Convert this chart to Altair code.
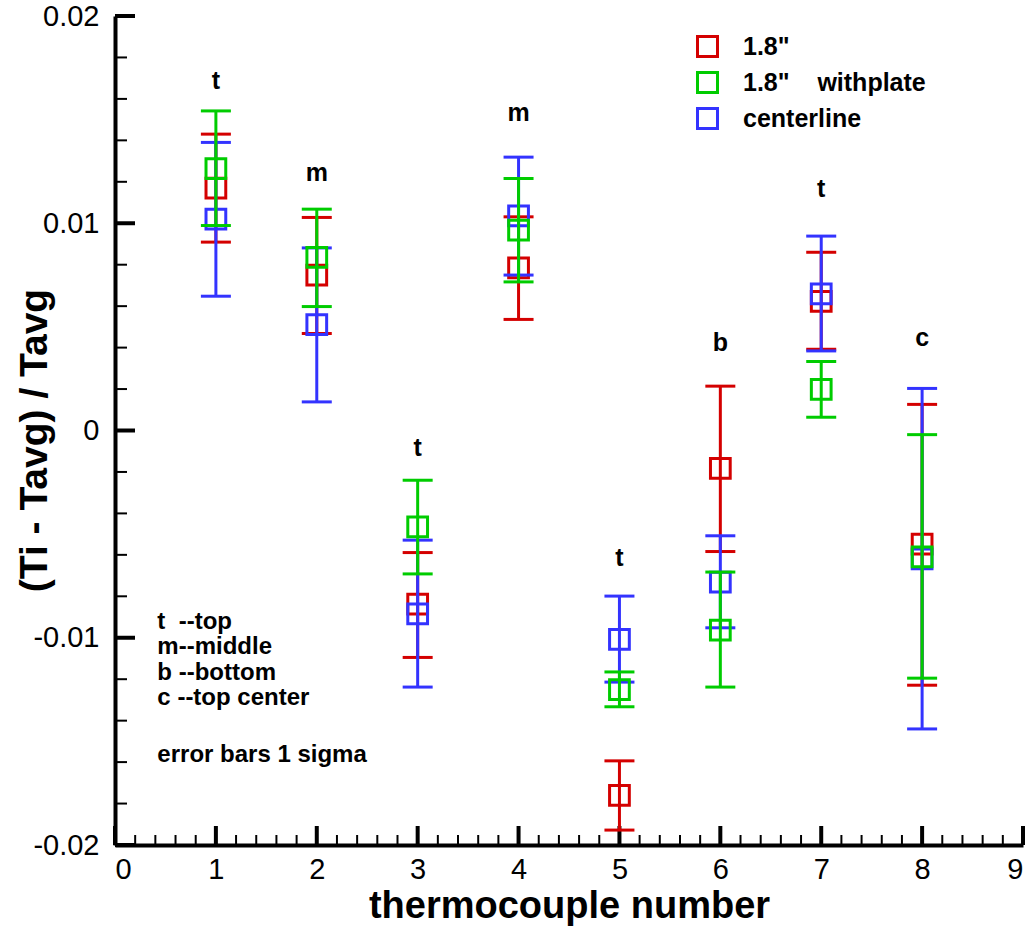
import altair as alt
import pandas as pd

FONT = "Liberation Sans"
NB = "\u00a0"

thermocouple = [1, 2, 3, 4, 5, 6, 7, 8]
series_names = ['1.8"', '1.8"' + NB * 4 + 'withplate', 'centerline']
series_colors = ["#D40000", "#00CC00", "#3333FF"]

red_mean = [0.01169, 0.00750, -0.00838, 0.00785, -0.01761, -0.00183, 0.00623, -0.00548]
red_hi = [0.01430, 0.01028, -0.00589, 0.01031, -0.01594, 0.00214, 0.00860, 0.00126]
red_lo = [0.00909, 0.00468, -0.01095, 0.00536, -0.01928, -0.00584, 0.00392, -0.01229]

green_mean = [0.01264, 0.00835, -0.00465, 0.00967, -0.01250, -0.00963, 0.00198, -0.00610]
green_hi = [0.01542, 0.01068, -0.00240, 0.01216, -0.01165, -0.00683, 0.00333, -0.00020]
green_lo = [0.00989, 0.00598, -0.00692, 0.00717, -0.01333, -0.01238, 0.00064, -0.01195]

blue_mean = [0.01020, 0.00511, -0.00885, 0.01036, -0.01008, -0.00732, 0.00659, -0.00620]
blue_hi = [0.01390, 0.00881, -0.00529, 0.01319, -0.00799, -0.00508, 0.00938, 0.00203]
blue_lo = [0.00648, 0.00138, -0.01238, 0.00750, -0.01214, -0.00952, 0.00384, -0.01440]

point_letters = ["t", "m", "t", "m", "t", "b", "t", "c"]
point_letter_y = [0.01684, 0.01242, -0.00085, 0.01531, -0.00616, 0.00421, 0.01165, 0.00446]

note_lines = ["t" + NB * 2 + "--top", "m--middle", "b" + NB + "--bottom",
              "c" + NB + "--top center", "error bars 1 sigma"]
note_y = [-0.00925, -0.01046, -0.01171, -0.01292, -0.01567]
note_x = 0.42

x_major = [0, 1, 2, 3, 4, 5, 6, 7, 8, 9]
x_minor = [i / 5 for i in range(46) if i % 5 != 0]
y_major = [-0.02, -0.01, 0.0, 0.01, 0.02]
y_minor = [i / 500 for i in range(-10, 11) if i % 5 != 0]

xs = alt.Scale(domain=[0, 9], nice=False, zero=False)
ys = alt.Scale(domain=[-0.02, 0.02], nice=False, zero=False)
cs = alt.Scale(domain=series_names, range=series_colors)

legend = alt.Legend(
    title=None, orient="none", legendX=580, legendY=18,
    symbolType="square", symbolSize=400, symbolStrokeWidth=3,
    symbolFillColor="transparent",
    labelFont=FONT, labelFontSize=25, labelFontWeight="bold", labelColor="black",
    labelOffset=23, rowPadding=3, labelLimit=0,
)

x_axis = alt.Axis(
    values=x_major, format="d", grid=False, ticks=False,
    domain=True, domainColor="black", domainWidth=4,
    labelFont=FONT, labelFontSize=29, labelColor="black", labelPadding=10,
    title="thermocouple number", titleFont=FONT, titleFontSize=38,
    titleFontWeight="bold", titleColor="black",
    titleY=72, titleBaseline="alphabetic",
)
y_axis = alt.Axis(
    values=y_major, grid=False, ticks=False,
    labelExpr="datum.value == 0 ? '0' : (datum.value < 0 ? '-' : '') + format(abs(datum.value), '.2f')",
    domain=True, domainColor="black", domainWidth=4,
    labelFont=FONT, labelFontSize=29, labelColor="black", labelPadding=16,
    title="(Ti - Tavg) / Tavg", titleFont=FONT, titleFontSize=39,
    titleFontWeight="bold", titleColor="black",
    titleAngle=270, titleX=-69, titleY=424, titleAlign="center",
    titleBaseline="alphabetic",
)


def X(field):
    return alt.X(field, scale=xs, axis=x_axis)


def Y(field):
    return alt.Y(field, scale=ys, axis=y_axis)


# ----- axis ticks (drawn inward) -----
xmaj_df = pd.DataFrame({"v": x_major, "b": -0.02})
xmin_df = pd.DataFrame({"v": x_minor, "b": -0.02})
ymaj_df = pd.DataFrame({"v": y_major, "b": 0.0})
ymin_df = pd.DataFrame({"v": y_minor, "b": 0.0})

xmaj = alt.Chart(xmaj_df).mark_rule(color="black", strokeWidth=4, y2Offset=-19).encode(
    x=X("v:Q"), y=Y("b:Q"), y2="b:Q",
)
xmin = alt.Chart(xmin_df).mark_rule(color="black", strokeWidth=2, y2Offset=-10).encode(
    x=X("v:Q"), y=Y("b:Q"), y2="b:Q",
)
ymaj = alt.Chart(ymaj_df).mark_rule(color="black", strokeWidth=4, x2Offset=20).encode(
    y=Y("v:Q"), x=X("b:Q"), x2="b:Q",
)
ymin = alt.Chart(ymin_df).mark_rule(color="black", strokeWidth=2, x2Offset=12).encode(
    y=Y("v:Q"), x=X("b:Q"), x2="b:Q",
)

layers = [xmin, xmaj, ymin, ymaj]

series_data = [
    (series_names[0], series_colors[0], red_mean, red_lo, red_hi),
    (series_names[2], series_colors[2], blue_mean, blue_lo, blue_hi),
    (series_names[1], series_colors[1], green_mean, green_lo, green_hi),
]

for name, color, mean, lo, hi in series_data:
    df = pd.DataFrame({"x": thermocouple, "mean": mean, "lo": lo, "hi": hi, "series": name})
    base = alt.Chart(df)
    bar = base.mark_rule(color=color, strokeWidth=3).encode(
        x=X("x:Q"), y=Y("lo:Q"), y2="hi:Q",
    )
    cap_hi = base.mark_rule(color=color, strokeWidth=3, xOffset=-15, x2Offset=15).encode(
        x=X("x:Q"), x2="x:Q", y=Y("hi:Q"),
    )
    cap_lo = base.mark_rule(color=color, strokeWidth=3, xOffset=-15, x2Offset=15).encode(
        x=X("x:Q"), x2="x:Q", y=Y("lo:Q"),
    )
    sq = base.mark_point(shape="square", filled=False, size=390, strokeWidth=3, opacity=1).encode(
        x=X("x:Q"), y=Y("mean:Q"),
        color=alt.Color("series:N", scale=cs, legend=legend),
    )
    layers += [bar, cap_hi, cap_lo, sq]

letters_df = pd.DataFrame({"x": thermocouple, "y": point_letter_y, "t": point_letters})
letters = alt.Chart(letters_df).mark_text(
    font=FONT, fontSize=25, fontWeight="bold", color="black", align="center", baseline="middle"
).encode(x=X("x:Q"), y=Y("y:Q"), text="t:N")

notes_df = pd.DataFrame({"x": [note_x] * len(note_lines), "y": note_y, "t": note_lines})
notes = alt.Chart(notes_df).mark_text(
    font=FONT, fontSize=24, fontWeight="bold", color="black", align="left", baseline="middle"
).encode(x=X("x:Q"), y=Y("y:Q"), text="t:N")

layers += [letters, notes]

chart = alt.layer(*layers).properties(
    width=908, height=829,
    autosize=alt.AutoSizeParams(type="none"),
    padding={"left": 115, "top": 16, "right": 13, "bottom": 86},
    background="white",
).configure_view(stroke=None)

chart.save("out.html", embed_options={"renderer": "svg", "actions": False})
